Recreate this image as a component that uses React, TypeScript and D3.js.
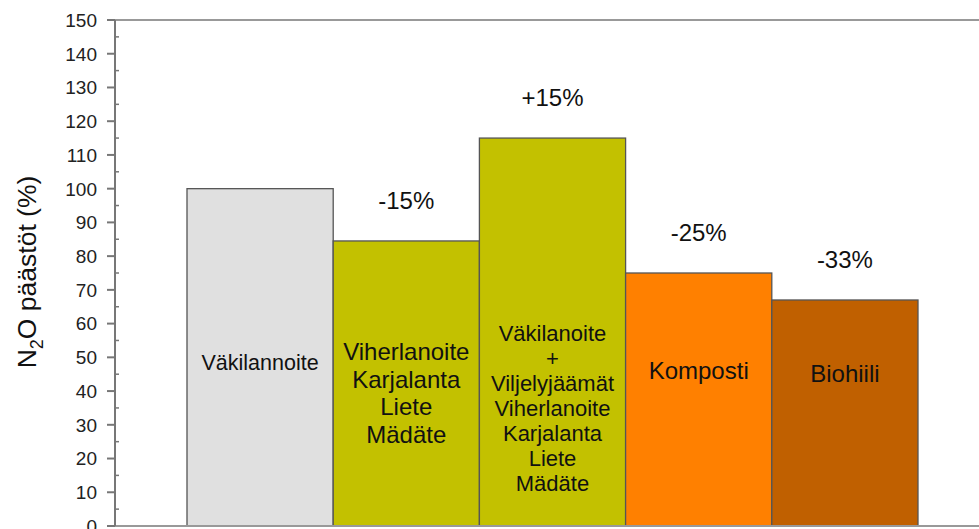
import React, { useRef, useEffect } from "react";
import * as d3 from "d3";

// bar categories, heights (% of Väkilannoite) and the change labels above them
const categories = ["vaki", "viher", "yhdistelma", "komposti", "biohiili"];
const values = [100, 84.5, 115, 75, 67];
const changeLabels = ["", "-15%", "+15%", "-25%", "-33%"];
const barTexts = [
  ["Väkilannoite"],
  ["Viherlanoite", "Karjalanta", "Liete", "Mädäte"],
  ["Väkilanoite", "+", "Viljelyjäämät", "Viherlanoite", "Karjalanta", "Liete", "Mädäte"],
  ["Komposti"],
  ["Biohiili"],
];
const barColors = ["#e0e0e0", "#c3c100", "#c3c100", "#ff8000", "#c06000"];
const yTicks = d3.range(0, 151, 10);
const yMinorTicks = d3.range(5, 150, 10);

const App: React.FC = () => {
  const svgRef = useRef<SVGSVGElement>(null);

  useEffect(() => {
    const width = 979;
    const axisX = 115;
    const font = "Arial, 'Liberation Sans', sans-serif";

    const svg = d3.select(svgRef.current);
    svg.selectAll("*").remove();

    const y = d3.scaleLinear().domain([0, 150]).range([526, 20]);
    const x = d3
      .scaleBand()
      .domain(categories)
      .range([187, 918])
      .paddingInner(0)
      .paddingOuter(0);

    // bars
    svg
      .append("g")
      .selectAll("rect")
      .data(values)
      .enter()
      .append("rect")
      .attr("x", (_, i) => x(categories[i])!)
      .attr("y", (d) => y(d))
      .attr("width", x.bandwidth())
      .attr("height", (d) => y(0) - y(d))
      .attr("fill", (_, i) => barColors[i])
      .attr("stroke", "#555")
      .attr("stroke-width", 1.3);

    // frame lines
    [150, 0].forEach((v) => {
      svg
        .append("line")
        .attr("x1", axisX)
        .attr("x2", width)
        .attr("y1", y(v))
        .attr("y2", y(v))
        .attr("stroke", "#999")
        .attr("stroke-width", 2);
    });

    // y axis
    const yAxis = svg.append("g");
    yAxis
      .append("line")
      .attr("x1", axisX)
      .attr("x2", axisX)
      .attr("y1", y(150))
      .attr("y2", y(0))
      .attr("stroke", "#777")
      .attr("stroke-width", 2);
    yAxis
      .selectAll(".major")
      .data(yTicks)
      .enter()
      .append("line")
      .attr("x1", axisX - 8)
      .attr("x2", axisX)
      .attr("y1", (d) => y(d))
      .attr("y2", (d) => y(d))
      .attr("stroke", "#777")
      .attr("stroke-width", 2);
    yAxis
      .selectAll(".minor")
      .data(yMinorTicks)
      .enter()
      .append("line")
      .attr("x1", axisX)
      .attr("x2", axisX + 4)
      .attr("y1", (d) => y(d))
      .attr("y2", (d) => y(d))
      .attr("stroke", "#777")
      .attr("stroke-width", 1.5);
    yAxis
      .selectAll("text")
      .data(yTicks)
      .enter()
      .append("text")
      .attr("x", 97)
      .attr("y", (d) => y(d))
      .attr("dy", "0.36em")
      .attr("text-anchor", "end")
      .attr("font-family", font)
      .attr("font-size", 19)
      .attr("fill", "#222")
      .text((d) => d);

    // axis title
    const title = svg
      .append("text")
      .attr("transform", `translate(36,272) rotate(-90)`)
      .attr("text-anchor", "middle")
      .attr("font-family", font)
      .attr("font-size", 26.5)
      .attr("fill", "#111");
    title.append("tspan").text("N");
    title
      .append("tspan")
      .attr("font-size", 18)
      .attr("dy", 7)
      .text("2");
    title.append("tspan").attr("dy", -7).text("O päästöt (%)");

    // change labels above bars
    svg
      .append("g")
      .selectAll("text")
      .data(changeLabels)
      .enter()
      .append("text")
      .attr("x", (_, i) => x(categories[i])! + x.bandwidth() / 2)
      .attr("y", (_, i) => y(values[i]) - 41)
      .attr("dy", "0.36em")
      .attr("text-anchor", "middle")
      .attr("font-family", font)
      .attr("font-size", 24)
      .attr("fill", "#111")
      .text((d) => d);

    // texts inside bars
    const fontSizes = [21.5, 24, 22, 24, 24];
    const lineGap = [0, 27.5, 25, 0, 0];
    const textCenter = [362, 393, 408, 370, 373];
    barTexts.forEach((lines, i) => {
      const cx = x(categories[i])! + x.bandwidth() / 2;
      const start = textCenter[i] - ((lines.length - 1) * lineGap[i]) / 2;
      svg
        .append("g")
        .selectAll("text")
        .data(lines)
        .enter()
        .append("text")
        .attr("x", cx)
        .attr("y", (_, j) => start + j * lineGap[i])
        .attr("dy", "0.36em")
        .attr("text-anchor", "middle")
        .attr("font-family", font)
        .attr("font-size", fontSizes[i])
        .attr("fill", "#111")
        .text((d) => d);
    });
  }, []);

  return (
    <svg
      ref={svgRef}
      width={979}
      height={529}
      style={{ position: "absolute", left: 0, top: 0, background: "#fff" }}
    />
  );
};

export default App;
